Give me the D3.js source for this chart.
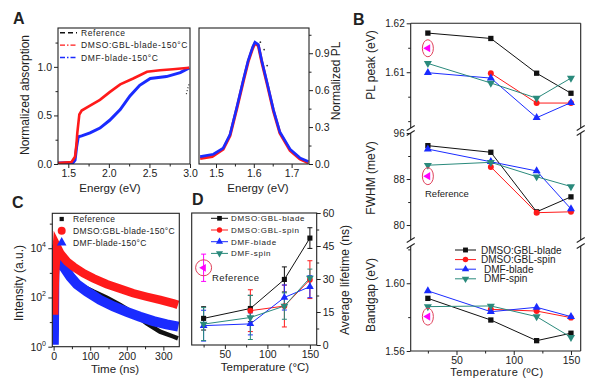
<!DOCTYPE html>
<meta charset="utf-8">
<head>
  <title>Perovskite film panels</title>
</head>
<style>
body { margin: 0; background: #fff; }
svg text { font-family: "Liberation Sans", Arial, Helvetica, sans-serif; fill: #222; }
</style>
<body>
<svg width="600" height="387"></svg>
<script src="https://cdnjs.cloudflare.com/ajax/libs/d3/7.8.5/d3.min.js"></script>
<script>
// ---------- data ----------
// A: absorption, [energy (eV), normalized]
var absGBL = [[1.37,0.01],[1.54,0.02],[1.583,0.075],[1.60,0.2],[1.611,0.32],[1.636,0.51],[1.665,0.55],[1.768,0.60],[1.89,0.66],[2.01,0.74],[2.14,0.82],[2.30,0.88],[2.47,0.95],[2.63,0.965],[2.79,0.975],[2.99,0.99]];
var absDMF = [[1.37,0.01],[1.56,0.015],[1.583,0.04],[1.603,0.18],[1.623,0.28],[1.665,0.29],[1.768,0.32],[1.89,0.37],[2.01,0.45],[2.14,0.56],[2.26,0.70],[2.38,0.81],[2.51,0.88],[2.71,0.90],[2.88,0.94],[2.99,0.99]];
var absRef = [[2.955,0.72],[2.97,0.77],[2.99,0.83]];
// A: PL, [energy (eV), normalized]
var plGBL = [[1.458,0.045],[1.49,0.06],[1.519,0.12],[1.537,0.23],[1.555,0.45],[1.572,0.67],[1.585,0.83],[1.597,0.94],[1.603,0.98],[1.612,0.96],[1.621,0.83],[1.636,0.64],[1.652,0.43],[1.669,0.25],[1.696,0.11],[1.722,0.04],[1.744,0.01]];
var plDMF = [[1.458,0.06],[1.493,0.08],[1.519,0.13],[1.537,0.24],[1.555,0.46],[1.572,0.68],[1.585,0.84],[1.597,0.95],[1.603,0.99],[1.612,0.97],[1.621,0.84],[1.636,0.65],[1.652,0.44],[1.669,0.26],[1.696,0.12],[1.722,0.05],[1.744,0.02]];
var plRef = [[1.612,0.99],[1.622,0.93],[1.63,0.80]];

// C: decays, [time (ns), counts]
var decayRef = [[1.5,300],[3.5,12600],[18,2900],[36.5,1050],[54.5,513],[82,275],[109,174],[145.6,98],[182,50],[218,23],[254.7,8.9],[291,4.1],[327,2.6],[340,2.2]];
var decayDMF = [[0.5,1.2],[1,5],[2,800],[4.6,13500],[13.6,5400],[27,1780],[45.5,708],[63.8,347],[91,174],[127,79],[163.6,43],[200,26],[236,16.6],[272.7,11],[309,8.1],[341,6.5]];
var decayGBL = [[1.5,20],[2.5,200],[4,1000],[9,11700],[18,6300],[36.5,2900],[54.5,1780],[82,955],[109,600],[145.6,347],[182,224],[218,148],[254.7,107],[291,79],[327,58],[340,50]];

// B and D: temperatures (°C)
var temps = [25, 80, 120, 150];
var refTemp = 25;
// B: PL peak (eV)
var pkGBLblade = [1.618, 1.6169, 1.6098, 1.6057];
var pkGBLspin  = [null, 1.6098, 1.6037, 1.6037];
var pkDMFblade = [1.6099, 1.6088, 1.6007, 1.6038];
var pkDMFspin  = [1.6118, 1.6078, 1.6047, 1.6088];
var pkRef = 1.6149;
// B: FWHM (meV)
var fwGBLblade = [93.8, 92.65, 82.3, 84.9];
var fwGBLspin  = [null, 90.1, 82.15, 82.3];
var fwDMFblade = [93.2, 91.0, 89.4, 82.8];
var fwDMFspin  = [90.4, 90.9, 88.4, 86.7];
var fwRef = 88.5;
// B: bandgap (eV)
var bgGBLblade = [1.5911, 1.5783, 1.5661, 1.5705];
var bgGBLspin  = [null, 1.5846, 1.5836, 1.5797];
var bgDMFblade = [1.5955, 1.5832, 1.5858, 1.5803];
var bgDMFspin  = [1.5862, 1.5866, 1.5803, 1.5681];
var bgRef = 1.5803;
// D: average lifetime (ns) and error
var ltGBLblade = [12.1, 16.6, 29.8, 48.6], erGBLblade = [5.3, 6, 5.7, 4.7];
var ltGBLspin  = [null, 15.6, 17.7, 29.7], erGBLspin  = [null, 9.5, 9.5, 8.6];
var ltDMFblade = [8.8, 9.6, 21.6, 26.5],   erDMFblade = [7, 5, 5.7, 5];
var ltDMFspin  = [9.5, 12.5, 17.7, 30.5],  erDMFspin  = [7.5, 10, 6, 4];
var ltRef = 35.1, erRef = 6.2;

var seriesNames = ['DMSO:GBL-blade', 'DMSO:GBL-spin', 'DMF-blade', 'DMF-spin'];
var sampleNames = ['Reference', 'DMSO:GBL-blade-150\u00B0C', 'DMF-blade-150\u00B0C'];

var BLACK = '#111', RED = '#ff1a1a', BLUE = '#1a2bff', TEAL = '#2a8a7c', MAG = '#ff00ff', RING = '#e0405a';
var kinds = ['sq', 'ci', 'up', 'dn'];
var colors = [BLACK, RED, BLUE, TEAL];

var svg = d3.select('svg');

// ---------- helpers ----------
function axis(gen, tx, ty, fs) {
  var g = svg.append('g').attr('transform', 'translate(' + tx + ',' + ty + ')').call(gen);
  g.select('.domain').remove();
  g.selectAll('line').attr('stroke', '#222');
  g.selectAll('text').attr('font-size', fs || 10.5).attr('fill', '#222');
  return g;
}
function frame(x0, y0, x1, y1) {
  svg.append('rect').attr('x', x0).attr('y', y0).attr('width', x1 - x0).attr('height', y1 - y0)
    .attr('fill', 'none').attr('stroke', '#222').attr('stroke-width', 1.1);
}
function hline(x0, x1, y) { svg.append('line').attr('x1', x0).attr('x2', x1).attr('y1', y).attr('y2', y).attr('stroke', '#222').attr('stroke-width', 1.1); }
function vline(x, y0, y1) { svg.append('line').attr('x1', x).attr('x2', x).attr('y1', y0).attr('y2', y1).attr('stroke', '#222').attr('stroke-width', 1.1); }
function label(txt, x, y, fs, rot, anchor, weight) {
  return svg.append('text').attr('x', x).attr('y', y).attr('font-size', fs)
    .attr('text-anchor', anchor || 'middle').attr('font-weight', weight || 'normal')
    .attr('transform', rot ? 'rotate(' + rot + ',' + x + ',' + y + ')' : null).text(txt);
}
function marker(x, y, kind, color, size) {
  var t = {sq: d3.symbolSquare, ci: d3.symbolCircle, up: d3.symbolTriangle, dn: d3.symbolTriangle, lf: d3.symbolTriangle}[kind];
  var rot = {dn: 180, lf: -90}[kind] || 0;
  svg.append('path').attr('d', d3.symbol().type(t).size(size)())
    .attr('transform', 'translate(' + x + ',' + y + ') rotate(' + rot + ')').attr('fill', color);
}
function clip(id, x0, y0, x1, y1) {
  svg.append('clipPath').attr('id', id).append('rect').attr('x', x0).attr('y', y0).attr('width', x1 - x0).attr('height', y1 - y0);
  return 'url(#' + id + ')';
}

// ---------- panel A (absorption) ----------
var xA = d3.scaleLinear([1.373, 3.0], [58, 190]);
var yA = d3.scaleLinear([0, 1.4], [164, 28]);
var cA = clip('cA', 58, 28, 190, 164);
var lineA = d3.line().x(d => xA(d[0])).y(d => yA(d[1]));
svg.append('path').datum(absDMF).attr('d', lineA).attr('fill', 'none').attr('stroke', BLUE).attr('stroke-width', 3).attr('clip-path', cA);
svg.append('path').datum(absGBL).attr('d', lineA).attr('fill', 'none').attr('stroke', RED).attr('stroke-width', 2.6).attr('clip-path', cA);
svg.append('path').datum(absRef).attr('d', lineA).attr('fill', 'none').attr('stroke', '#333').attr('stroke-width', 1.2).attr('stroke-dasharray', '1,2');
axis(d3.axisBottom(xA).tickValues([1.5, 2.0, 2.5, 3.0]).tickFormat(d3.format('.1f')).tickSize(4).tickPadding(2), 0, 164);
axis(d3.axisBottom(xA).tickValues([1.75, 2.25, 2.75]).tickFormat('').tickSize(2.5), 0, 164);
axis(d3.axisLeft(yA).tickValues([0, 0.5, 1.0]).tickFormat(d3.format('.1f')).tickSize(4).tickPadding(2), 58, 0);
axis(d3.axisLeft(yA).tickValues([0.25, 0.75, 1.25]).tickFormat('').tickSize(2.5), 58, 0);
frame(58, 28, 190, 164);
label('Normalized absorption', 29, 95, 12, -90);
label('Energy (eV)', 110, 192, 11.5);
// legend A
[[BLACK, '5,3'], [RED, '5,2,1.5,2'], [BLUE, '5,2,1.5,2']].forEach(function (s, i) {
  var y = 32.7 + i * 12.4;
  svg.append('line').attr('x1', 60).attr('x2', 77).attr('y1', y).attr('y2', y)
    .attr('stroke', s[0]).attr('stroke-width', 1.4).attr('stroke-dasharray', s[1]);
  label(sampleNames[i], 81, y + 3, 8.5, 0, 'start').attr('letter-spacing', 0.6);
});

// ---------- panel A (PL) ----------
var xP = d3.scaleLinear([1.455, 1.746], [199, 309]);
var yP = d3.scaleLinear([0, 1.105], [164, 28]);
var cP = clip('cP', 199, 28, 309, 164);
var lineP = d3.line().x(d => xP(d[0])).y(d => yP(d[1]));
svg.append('path').datum(plGBL).attr('d', lineP).attr('fill', 'none').attr('stroke', RED).attr('stroke-width', 3).attr('clip-path', cP);
svg.append('path').datum(plDMF).attr('d', lineP).attr('fill', 'none').attr('stroke', BLUE).attr('stroke-width', 2.6).attr('clip-path', cP);
plRef.forEach(d => svg.append('circle').attr('cx', xP(d[0]) + 2).attr('cy', yP(d[1])).attr('r', 0.9).attr('fill', '#333'));
axis(d3.axisBottom(xP).tickValues([1.5, 1.6, 1.7]).tickFormat(d3.format('.1f')).tickSize(4).tickPadding(2), 0, 164);
axis(d3.axisBottom(xP).tickValues([1.55, 1.65]).tickFormat('').tickSize(2.5), 0, 164);
axis(d3.axisRight(yP).tickValues([0, 0.3, 0.6, 0.9]).tickFormat(d3.format('.1f')).tickSize(4).tickPadding(2), 309, 0);
axis(d3.axisRight(yP).tickValues([0.15, 0.45, 0.75, 1.05]).tickFormat('').tickSize(2.5), 309, 0);
frame(199, 28, 309, 164);
label('Normalized PL', 340, 81, 12, -90);
label('Energy (eV)', 258, 192, 11.5);

// ---------- panel C ----------
var xC = d3.scaleLinear([-3.6, 343.6], [52.3, 179.3]);
var yC = d3.scaleLog([1, Math.pow(10, 5.42)], [346.7, 213.3]);
var cC = clip('cC', 52.3, 213.3, 179.3, 346.7);
var lineC = d3.line().x(d => xC(d[0])).y(d => yC(d[1]));
svg.append('path').datum(decayRef).attr('d', lineC).attr('fill', 'none').attr('stroke', BLACK).attr('stroke-width', 4.5).attr('clip-path', cC);
svg.append('path').datum(decayDMF).attr('d', lineC).attr('fill', 'none').attr('stroke', BLUE).attr('stroke-width', 10).attr('clip-path', cC);
svg.append('path').datum(decayGBL).attr('d', lineC).attr('fill', 'none').attr('stroke', RED).attr('stroke-width', 8.5).attr('clip-path', cC);
axis(d3.axisBottom(xC).tickValues([0, 100, 200, 300]).tickSize(4).tickPadding(2), 0, 346.7);
axis(d3.axisBottom(xC).tickValues([50, 150, 250]).tickFormat('').tickSize(2.5), 0, 346.7);
axis(d3.axisLeft(yC).tickValues([1, 100, 10000]).tickFormat('').tickSize(4), 52.3, 0);
axis(d3.axisLeft(yC).tickValues([10, 1000, 100000]).tickFormat('').tickSize(2.5), 52.3, 0);
[0, 2, 4].forEach(function (p) {
  var t = svg.append('text').attr('x', 46).attr('y', yC(Math.pow(10, p)) + 4).attr('font-size', 10.5).attr('text-anchor', 'end');
  t.append('tspan').text('10');
  t.append('tspan').attr('dy', -5).attr('font-size', 7).text(p);
});
frame(52.3, 213.3, 179.3, 346.7);
label('Intensity (a.u.)', 23, 283, 12, -90);
label('Time (ns)', 115, 373, 11.5);
// legend C
[['sq', BLACK, 18], ['ci', RED, 50], ['up', BLUE, 40]].forEach(function (s, i) {
  var y = 219 + i * 11.8;
  marker(61.7, y, s[0], s[1], s[2]);
  label(sampleNames[i], 73, y + 3, 8.5, 0, 'start').attr('letter-spacing', 0.35);
});

// ---------- panel D ----------
var xD = d3.scaleLinear([11, 158], [191.7, 316.7]);
var yD = d3.scaleLinear([0, 60], [345, 213]);
var lifetimes = [ltGBLblade, ltGBLspin, ltDMFblade, ltDMFspin];
var ltErrors = [erGBLblade, erGBLspin, erDMFblade, erDMFspin];
function errBar(x, y, e, color) {
  var y0 = yD(y - e), y1 = yD(y + e);
  svg.append('line').attr('x1', x).attr('x2', x).attr('y1', y0).attr('y2', y1).attr('stroke', color).attr('stroke-width', 1);
  [y0, y1].forEach(yy => svg.append('line').attr('x1', x - 2.5).attr('x2', x + 2.5).attr('y1', yy).attr('y2', yy).attr('stroke', color).attr('stroke-width', 1));
}
lifetimes.forEach(function (vals, k) {
  var pts = temps.map((t, i) => [t, vals[i], ltErrors[k][i]]).filter(d => d[1] != null);
  pts.forEach(d => errBar(xD(d[0]), d[1], d[2], colors[k]));
});
lifetimes.forEach(function (vals, k) {
  var pts = temps.map((t, i) => [t, vals[i]]).filter(d => d[1] != null);
  svg.append('path').datum(pts).attr('d', d3.line().x(d => xD(d[0])).y(d => yD(d[1])))
    .attr('fill', 'none').attr('stroke', colors[k]).attr('stroke-width', 1);
  pts.forEach(d => marker(xD(d[0]), yD(d[1]), kinds[k], colors[k], 26));
});
errBar(xD(refTemp), ltRef, erRef, MAG);
marker(xD(refTemp), yD(ltRef), 'lf', MAG, 26);
svg.append('circle').attr('cx', xD(refTemp)).attr('cy', yD(ltRef)).attr('r', 8).attr('fill', 'none').attr('stroke', RING).attr('stroke-width', 1);
label('Reference', 212, 281, 9.5, 0, 'start').attr('letter-spacing', 0.4);
axis(d3.axisBottom(xD).tickValues([50, 100, 150]).tickSize(4).tickPadding(2), 0, 345);
axis(d3.axisBottom(xD).tickValues([25, 75, 125]).tickFormat('').tickSize(2.5), 0, 345);
axis(d3.axisRight(yD).tickValues([0, 15, 30, 45, 60]).tickSize(4).tickPadding(2), 316.7, 0);
axis(d3.axisRight(yD).tickValues([7.5, 22.5, 37.5, 52.5]).tickFormat('').tickSize(2.5), 316.7, 0);
frame(191.7, 213, 316.7, 345);
label('Average lifetime (ns)', 349, 280, 12, -90);
label('Temperature (\u00B0C)', 265, 371, 11.5);
// legend D
seriesNames.forEach(function (n, k) {
  var y = 218.3 + k * 11.7;
  svg.append('line').attr('x1', 211).attr('x2', 228).attr('y1', y).attr('y2', y).attr('stroke', colors[k]).attr('stroke-width', 1);
  marker(219.5, y, kinds[k], colors[k], 22);
  label(n, 231, y + 3, 8, 0, 'start').attr('letter-spacing', 0.7);
});

// ---------- panel B (broken axis) ----------
var xB = d3.scaleLinear([10, 158.5], [410.7, 580.7]);
var yB1 = d3.scaleLinear([1.5986, 1.62], [128, 23.3]);
var yB2 = d3.scaleLinear([77.4, 96], [240, 133]);
var yB3 = d3.scaleLinear([1.56, 1.622], [351, 246]);
var bSets = [
  [yB1, [pkGBLblade, pkGBLspin, pkDMFblade, pkDMFspin], pkRef],
  [yB2, [fwGBLblade, fwGBLspin, fwDMFblade, fwDMFspin], fwRef],
  [yB3, [bgGBLblade, bgGBLspin, bgDMFblade, bgDMFspin], bgRef]
];
bSets.forEach(function (set) {
  var yS = set[0];
  set[1].forEach(function (vals, k) {
    var pts = temps.map((t, i) => [t, vals[i]]).filter(d => d[1] != null);
    svg.append('path').datum(pts).attr('d', d3.line().x(d => xB(d[0])).y(d => yS(d[1])))
      .attr('fill', 'none').attr('stroke', colors[k]).attr('stroke-width', 1);
    pts.forEach(d => marker(xB(d[0]), yS(d[1]), kinds[k], colors[k], 28));
  });
  var rx = xB(refTemp), ry = yS(set[2]);
  marker(rx, ry, 'lf', MAG, 28);
  svg.append('ellipse').attr('cx', rx).attr('cy', ry).attr('rx', 5.5).attr('ry', 8.5)
    .attr('fill', 'none').attr('stroke', RING).attr('stroke-width', 1);
});
label('Reference', 425, 197, 9.5, 0, 'start');
// axes
axis(d3.axisLeft(yB1).tickValues([1.61, 1.62]).tickFormat(d3.format('.2f')).tickSize(4).tickPadding(2), 410.7, 0, 10);
axis(d3.axisLeft(yB1).tickValues([1.60, 1.605, 1.615]).tickFormat('').tickSize(2.5), 410.7, 0);
axis(d3.axisLeft(yB2).tickValues([80, 88, 96]).tickSize(4).tickPadding(2), 410.7, 0, 10);
axis(d3.axisLeft(yB2).tickValues([84, 92]).tickFormat('').tickSize(2.5), 410.7, 0);
axis(d3.axisLeft(yB3).tickValues([1.56, 1.60]).tickFormat(d3.format('.2f')).tickSize(4).tickPadding(2), 410.7, 0, 10);
axis(d3.axisLeft(yB3).tickValues([1.58, 1.62]).tickFormat('').tickSize(2.5), 410.7, 0);
axis(d3.axisBottom(xB).tickValues([50, 100, 150]).tickSize(4).tickPadding(2), 0, 351, 10.5);
axis(d3.axisBottom(xB).tickValues([25, 75, 125]).tickFormat('').tickSize(2.5), 0, 351);
[[23.3, 128], [133, 240], [246, 351]].forEach(function (s) {
  vline(410.7, s[0], s[1]);
  vline(580.7, s[0], s[1]);
});
hline(410.7, 580.7, 23.3);
hline(410.7, 580.7, 351);
[128, 133, 240, 246].forEach(function (y) {
  [410.7, 580.7].forEach(function (x) {
    svg.append('line').attr('x1', x - 4).attr('x2', x + 4).attr('y1', y + 2.5).attr('y2', y - 2.5)
      .attr('stroke', '#222').attr('stroke-width', 1.1);
  });
});
label('PL peak (eV)', 375, 65, 12, -90);
label('FWHM (meV)', 375, 178, 12, -90);
label('Bandgap (eV)', 375, 295, 12, -90);
label('Temperature (\u00BAC)', 497, 376, 11).attr('letter-spacing', 0.6);
// legend B
seriesNames.forEach(function (n, k) {
  var y = 250 + k * 9.6;
  svg.append('line').attr('x1', 455).attr('x2', 476).attr('y1', y).attr('y2', y).attr('stroke', colors[k]).attr('stroke-width', 1);
  marker(465.5, y, kinds[k], colors[k], 24);
  label(n, k < 2 ? 481 : 484, y + 3.5, 10, 0, 'start');
});

// ---------- panel letters ----------
label('A', 13, 24, 16, 0, 'start', 'bold');
label('B', 353, 25, 16, 0, 'start', 'bold');
label('C', 12, 208, 16, 0, 'start', 'bold');
label('D', 192, 205, 16, 0, 'start', 'bold');
</script>
</body>
